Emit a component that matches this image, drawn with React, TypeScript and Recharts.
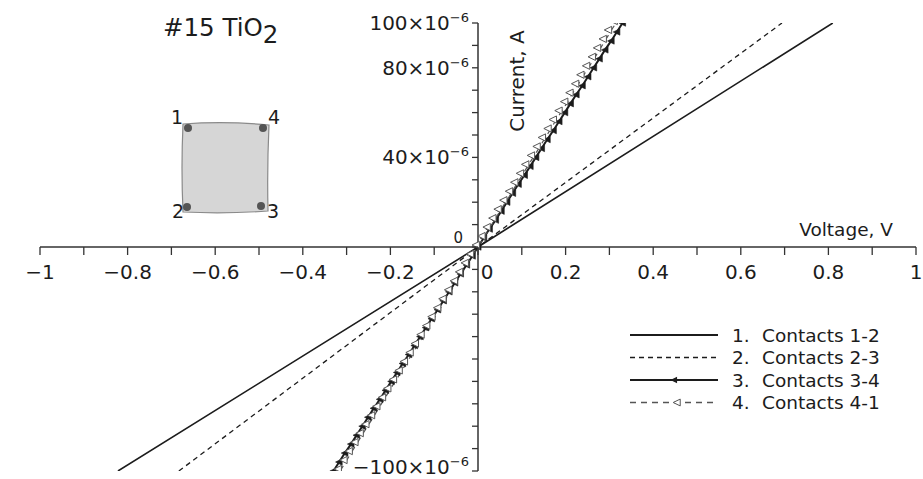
import { LineChart, Line, XAxis, YAxis, ReferenceLine, Legend } from 'recharts';

// the picture is the whole page, so drop the browser's body margin
if (typeof document !== 'undefined') document.body.style.margin = '0';

const W = 923;
const H = 479;
// the axes take 1px each, so the plot area runs 40..916 and 23..471
const MARGIN = { top: 23, right: 7, bottom: 7, left: 39 };
const PLOT_LEFT = MARGIN.left + 1;
const PLOT_BOTTOM = H - MARGIN.bottom - 1;
// axes cross at the origin, in the middle of the plot area
const ZERO_X = PLOT_LEFT + (W - PLOT_LEFT - MARGIN.right) / 2;
const ZERO_Y = MARGIN.top + (PLOT_BOTTOM - MARGIN.top) / 2;
const FONT = '"DejaVu Sans", Verdana, sans-serif';
const INK = '#1c1c1c';

// --- data (voltage in V, current in µA) ---
const voltageTicks = [-1, -0.9, -0.8, -0.7, -0.6, -0.5, -0.4, -0.3, -0.2, -0.1, 0, 0.1, 0.2, 0.3, 0.4, 0.5, 0.6, 0.7, 0.8, 0.9, 1];
const voltageLabels: Record<string, string> = {
  '-1': '−1', '-0.8': '−0.8', '-0.6': '−0.6', '-0.4': '−0.4', '-0.2': '−0.2',
  '0': '0', '0.2': '0.2', '0.4': '0.4', '0.6': '0.6', '0.8': '0.8', '1': '1',
};
const currentTicks = [-100, -90, -80, -70, -60, -50, -40, -30, -20, -10, 0, 10, 20, 30, 40, 50, 60, 70, 80, 90, 100];
const currentLabels: Record<string, string> = { '100': '100', '80': '80', '40': '40', '-100': '−100' };

const v12 = [-0.822, 0, 0.81];
const i12 = [-100, 0, 100];
const v23 = [-0.683, 0, 0.694];
const i23 = [-100, 0, 100];

const sweepCurrent = [
  -100, -96, -92, -88, -84, -80, -76, -72, -68, -64, -60, -56, -52, -48, -44, -40, -36, -32, -28, -24, -20, -16, -12, -8, -4,
  0, 4, 8, 12, 16, 20, 24, 28, 32, 36, 40, 44, 48, 52, 56, 60, 64, 68, 72, 76, 80, 84, 88, 92, 96, 100,
];
const v34 = [
  -0.330, -0.317, -0.304, -0.290, -0.277, -0.264, -0.251, -0.238, -0.224, -0.211, -0.198, -0.185, -0.172, -0.158, -0.145,
  -0.132, -0.119, -0.106, -0.092, -0.079, -0.066, -0.053, -0.040, -0.026, -0.013,
  0, 0.013, 0.026, 0.040, 0.053, 0.066, 0.079, 0.092, 0.106, 0.119, 0.132, 0.145, 0.158, 0.172, 0.185, 0.198,
  0.211, 0.224, 0.238, 0.251, 0.264, 0.277, 0.290, 0.304, 0.317, 0.330,
];
const v41 = [
  -0.315, -0.302, -0.290, -0.277, -0.265, -0.252, -0.239, -0.227, -0.214, -0.202, -0.189, -0.176, -0.164, -0.151, -0.139,
  -0.126, -0.113, -0.101, -0.088, -0.076, -0.063, -0.050, -0.038, -0.025, -0.013,
  0, 0.013, 0.025, 0.038, 0.050, 0.063, 0.076, 0.088, 0.101, 0.113, 0.126, 0.139, 0.151, 0.164, 0.176, 0.189,
  0.202, 0.214, 0.227, 0.239, 0.252, 0.265, 0.277, 0.290, 0.302, 0.315,
];

const legendNames = ['1.', '2.', '3.', '4.'];
const legendTexts = ['Contacts 1-2', 'Contacts 2-3', 'Contacts 3-4', 'Contacts 4-1'];

const toPoints = (vs: number[], is: number[]) => vs.map((v, k) => ({ v, i: is[k] }));
const data12 = toPoints(v12, i12);
const data23 = toPoints(v23, i23);
const data34 = toPoints(v34, sweepCurrent);
const data41 = toPoints(v41, sweepCurrent);

// left pointing triangle
const triPath = (cx: number, cy: number, s: number) =>
  `M${cx - s},${cy} L${cx + s * 0.85},${cy - s * 0.9} L${cx + s * 0.85},${cy + s * 0.9} Z`;

const FilledTri = (props: any) => {
  const { cx, cy, index } = props;
  if (cx == null || cy == null) return <g key={index} />;
  return <path key={index} d={triPath(cx, cy, 3.6)} fill={INK} stroke={INK} strokeWidth={0.6} />;
};

const OpenTri = (props: any) => {
  const { cx, cy, index } = props;
  if (cx == null || cy == null) return <g key={index} />;
  return <path key={index} d={triPath(cx - 2, cy - 2, 4)} fill="#fff" stroke="#555" strokeWidth={1} />;
};

const VoltageTick = (props: any) => {
  const { x, payload } = props;
  const label = voltageLabels[String(payload.value)];
  return (
    <g>
      <line x1={x} y1={ZERO_Y} x2={x} y2={ZERO_Y + 8} stroke="#333" strokeWidth={1.3} />
      {label && (
        <text x={payload.value === 0 ? x + 9 : x} y={ZERO_Y + 32} textAnchor="middle" fontSize={20} fill={INK} fontFamily={FONT}>
          {label}
        </text>
      )}
    </g>
  );
};

const CurrentTick = (props: any) => {
  const { y, payload } = props;
  const label = currentLabels[String(payload.value)];
  return (
    <g>
      <line x1={ZERO_X - 6} y1={y} x2={ZERO_X} y2={y} stroke="#333" strokeWidth={1.3} />
      {payload.value === 0 && (
        <text x={ZERO_X - 15} y={y - 4} textAnchor="end" fontSize={15} fill={INK} fontFamily={FONT}>0</text>
      )}
      {label && (
        <text x={ZERO_X - 9} y={payload.value < 0 ? y + 3 : y + 7} textAnchor="end" fontSize={20} fill={INK} fontFamily={FONT}>
          {label}×10<tspan dy={-8} fontSize={13}>−6</tspan>
        </text>
      )}
    </g>
  );
};

const LegendBox = () => (
  <svg width={290} height={100} style={{ display: 'block' }}>
    {legendTexts.map((t, k) => {
      const y = 12 + k * 22.5;
      return (
        <g key={t}>
          <line
            x1={2} y1={y} x2={90} y2={y}
            stroke={k === 3 ? '#555' : INK}
            strokeWidth={k === 0 || k === 2 ? 1.8 : 1.3}
            strokeDasharray={k === 1 ? '5 4' : k === 3 ? '6 5' : undefined}
          />
          {k === 2 && <path d={triPath(46, y, 3.6)} fill={INK} />}
          {k === 3 && <path d={triPath(49, y, 3.8)} fill="#fff" stroke="#555" strokeWidth={1} />}
          <text x={104} y={y + 6.5} fontSize={18.5} fill={INK} fontFamily={FONT}>{legendNames[k]}</text>
          <text x={134} y={y + 6.5} fontSize={18.5} fill={INK} fontFamily={FONT}>{t}</text>
        </g>
      );
    })}
  </svg>
);

export default function App() {
  return (
    <div style={{ position: 'relative', width: W, height: H, background: '#fff', fontFamily: FONT }}>
      <LineChart width={W} height={H} margin={MARGIN}>
        <XAxis
          type="number" dataKey="v" domain={[-1, 1]} ticks={voltageTicks} interval={0}
          height={1} axisLine={false} tickLine={false} tickSize={0} tickMargin={0} tick={<VoltageTick />}
          allowDataOverflow
        />
        <YAxis
          type="number" dataKey="i" domain={[-100, 100]} ticks={currentTicks} interval={0}
          width={1} axisLine={false} tickLine={false} tickSize={0} tickMargin={0} tick={<CurrentTick />}
          allowDataOverflow
        />
        <ReferenceLine y={0} stroke="#333" strokeWidth={1.5} />
        <ReferenceLine x={0} stroke="#333" strokeWidth={1.5} />
        <Line data={data12} dataKey="i" name="Contacts 1-2" type="linear" stroke={INK} strokeWidth={1.6} dot={false} activeDot={false} isAnimationActive={false} />
        <Line data={data23} dataKey="i" name="Contacts 2-3" type="linear" stroke={INK} strokeWidth={1.3} strokeDasharray="5 4" dot={false} activeDot={false} isAnimationActive={false} />
        <Line data={data34} dataKey="i" name="Contacts 3-4" type="linear" stroke={INK} strokeWidth={2} dot={FilledTri} activeDot={false} isAnimationActive={false} />
        <Line data={data41} dataKey="i" name="Contacts 4-1" type="linear" stroke="#555" strokeWidth={1.2} strokeDasharray="6 5" dot={OpenTri} activeDot={false} isAnimationActive={false} />
        <Legend
          layout="horizontal" verticalAlign="middle" align="center" content={<LegendBox />}
          wrapperStyle={{ position: 'absolute', left: 628, top: 323, width: 290, height: 100 }}
        />
      </LineChart>

      {/* title, sample sketch and axis names */}
      <svg width={W} height={H} style={{ position: 'absolute', left: 0, top: 0, pointerEvents: 'none' }}>
        <text x={163} y={36} fontSize={24.5} fill={INK} fontFamily={FONT}>
          #15 TiO<tspan dy={7}>2</tspan>
        </text>
        <path
          d="M183,124 Q226,121 269,125 Q267,168 268,211 Q226,214 183,212 Q181,168 183,124 Z"
          fill="#d6d6d6" stroke="#8a8a8a" strokeWidth={1.2}
        />
        <circle cx={188} cy={128} r={4} fill="#555" />
        <circle cx={263} cy={128} r={4} fill="#555" />
        <circle cx={187} cy={207} r={4} fill="#555" />
        <circle cx={261} cy={206} r={4} fill="#555" />
        <text x={183} y={124} textAnchor="end" fontSize={19} fill={INK} fontFamily={FONT}>1</text>
        <text x={268} y={124} fontSize={19} fill={INK} fontFamily={FONT}>4</text>
        <text x={184} y={218} textAnchor="end" fontSize={19} fill={INK} fontFamily={FONT}>2</text>
        <text x={267} y={218} fontSize={19} fill={INK} fontFamily={FONT}>3</text>
        <text x={893} y={236} textAnchor="end" fontSize={18.5} fill={INK} fontFamily={FONT}>Voltage, V</text>
        <text
          x={524} y={81} textAnchor="middle" fontSize={20} fill={INK} fontFamily={FONT}
          transform="rotate(-90 524 81)"
        >
          Current, A
        </text>
      </svg>
    </div>
  );
}
